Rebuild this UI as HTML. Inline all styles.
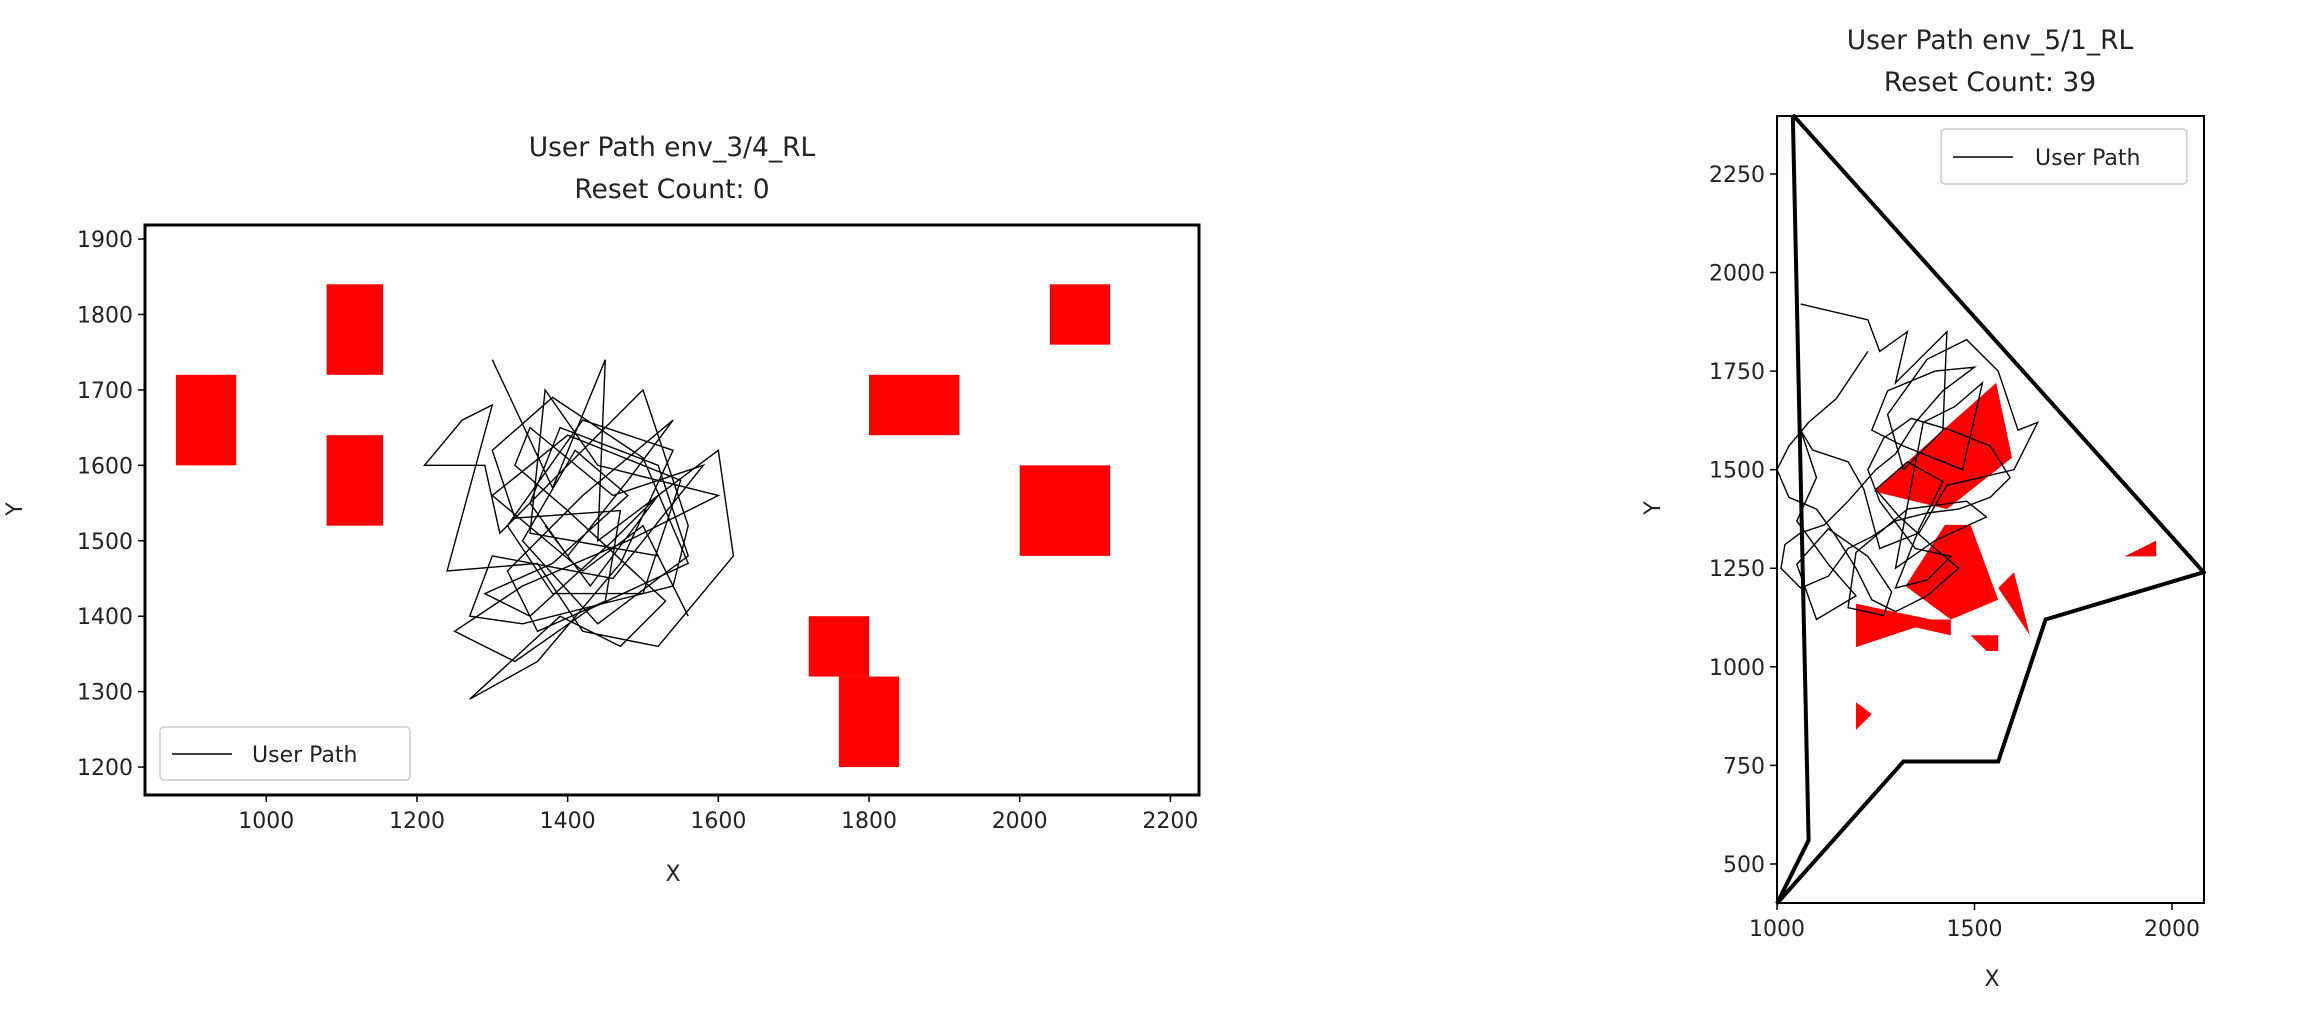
<!DOCTYPE html>
<html><head><meta charset="utf-8"><style>
html,body{margin:0;padding:0;background:#fff;}
svg{display:block;font-family:"DejaVu Sans","Liberation Sans",sans-serif;}
</style></head><body>
<svg id="fig" width="2320" height="1013" viewBox="0 0 2320 1013" xmlns="http://www.w3.org/2000/svg"></svg>
<script>
// ---- Left chart data ----
const leftXTicks = [1000,1200,1400,1600,1800,2000,2200];
const leftYTicks = [1200,1300,1400,1500,1600,1700,1800,1900];
const leftRects = [[880,960,1600,1720],[1080,1155,1720,1840],[1080,1155,1520,1640],[1720,1800,1320,1400],[1760,1840,1200,1320],[1800,1920,1640,1720],[2040,2120,1760,1840],[2000,2120,1480,1600]];
const leftPathX = [1300,1380,1450,1440,1600,1620,1520,1420,1360,1240,1300,1260,1210,1290,1310,1500,1560,1540,1340,1270,1300,1460,1580,1460,1350,1330,1400,1530,1470,1390,1270,1360,1470,1540,1420,1320,1380,1500,1550,1400,1300,1420,1500,1560,1520,1350,1370,1440,1600,1480,1340,1250,1330,1430,1560,1500,1380,1300,1330,1470,1450,1360,1320,1420,1540,1480,1400,1350,1390,1520,1560,1440,1340,1410,1480,1380,1290,1350,1460,1520,1430,1370];
const leftPathY = [1740,1570,1740,1500,1620,1480,1360,1380,1470,1460,1680,1660,1600,1600,1510,1700,1520,1440,1390,1400,1480,1450,1600,1560,1650,1600,1540,1420,1360,1400,1290,1340,1470,1620,1660,1520,1430,1430,1580,1640,1560,1460,1520,1400,1480,1510,1700,1600,1560,1500,1440,1380,1340,1410,1470,1610,1690,1620,1530,1540,1420,1380,1460,1560,1660,1580,1480,1550,1650,1600,1480,1390,1500,1620,1560,1470,1430,1400,1500,1560,1440,1520];
// ---- Right chart data ----
const rightXTicks = [1000,1500,2000];
const rightYTicks = [500,750,1000,1250,1500,1750,2000,2250];
const boundaryX = [1040,1080,1000,1320,1560,1680,2080,1040];
const boundaryY = [2400,560,400,760,760,1120,1240,2400];
const rightPolys = [
 [[1245,1445],[1555,1720],[1595,1530],[1430,1400]],
 [[1325,1205],[1425,1360],[1490,1360],[1560,1170],[1440,1120]],
 [[1200,1160],[1390,1120],[1440,1120],[1440,1080],[1350,1100],[1200,1050]],
 [[1560,1200],[1600,1240],[1640,1080]],
 [[1490,1080],[1560,1080],[1560,1040],[1530,1040]],
 [[1880,1280],[1960,1320],[1960,1280]],
 [[1200,910],[1240,880],[1200,840]]
];
const rightPathX = [1060,1230,1260,1330,1300,1430,1420,1320,1280,1380,1480,1560,1610,1660,1600,1430,1360,1260,1220,1180,1090,1060,1100,1050,1130,1200,1100,1050,1130,1230,1290,1270,1180,1200,1330,1480,1530,1400,1300,1370,1450,1520,1470,1320,1240,1280,1400,1500,1420,1350,1300,1250,1180,1120,1060,1020,1010,1060,1130,1180,1240,1300,1380,1460,1540,1590,1540,1440,1340,1270,1230,1260,1350,1440,1380,1300,1360,1420,1330,1250,1310,1400,1460,1380,1300,1240,1200,1150,1100,1030,1000,1030,1080,1150,1230];
const rightPathY = [1920,1880,1800,1850,1720,1850,1600,1500,1640,1780,1830,1750,1600,1620,1500,1460,1340,1300,1450,1520,1550,1600,1480,1370,1260,1180,1120,1260,1350,1280,1190,1130,1150,1290,1400,1420,1380,1320,1250,1620,1660,1720,1500,1560,1600,1700,1750,1760,1700,1620,1540,1500,1420,1360,1340,1310,1250,1200,1230,1300,1330,1370,1390,1400,1430,1480,1560,1600,1630,1580,1500,1420,1300,1280,1220,1200,1350,1470,1520,1450,1380,1300,1250,1180,1140,1170,1250,1330,1400,1430,1500,1560,1620,1680,1800];

const NS = "http://www.w3.org/2000/svg";
const fig = document.getElementById('fig');
function el(tag, attrs, parent){const e=document.createElementNS(NS,tag);for(const k in attrs)e.setAttribute(k,attrs[k]);(parent||fig).appendChild(e);return e;}
function txt(s, attrs, parent){const e=el('text',attrs,parent);e.textContent=s;return e;}
function makeAxis(box, xd, yd){
  const sx=v=>box.l+(v-xd[0])/(xd[1]-xd[0])*(box.r-box.l);
  const sy=v=>box.b-(v-yd[0])/(yd[1]-yd[0])*(box.b-box.t);
  return {sx,sy};
}

// ---------- LEFT ----------
const LB={l:145,r:1199,t:225,b:795};
const L=makeAxis(LB,[839,2238],[1163,1918.6]);
const gl=el('g',{});


const clipL=el('clipPath',{id:'clipL'},gl);el('rect',{x:LB.l,y:LB.t,width:LB.r-LB.l,height:LB.b-LB.t},clipL);
leftRects.forEach((r,i)=>{
  const e=el('rect',{x:L.sx(r[0]),y:L.sy(r[3]),width:L.sx(r[1])-L.sx(r[0]),height:L.sy(r[2])-L.sy(r[3]),fill:'#ff0000'},gl);
  
  
});
{
  let d=leftPathX.map((x,i)=>(i?'L':'M')+L.sx(x).toFixed(1)+' '+L.sy(leftPathY[i]).toFixed(1)).join(' ');
  const p=el('path',{d,fill:'none',stroke:'#000','stroke-width':1.4,'clip-path':'url(#clipL)'},gl);
  
  
}
el('rect',{x:LB.l,y:LB.t,width:LB.r-LB.l,height:LB.b-LB.t,fill:'none',stroke:'#000','stroke-width':3},gl);
leftXTicks.forEach(v=>{const x=L.sx(v);el('line',{x1:x,x2:x,y1:LB.b,y2:LB.b+7,stroke:'#000','stroke-width':1.5},gl);
  const t=txt(String(v),{x:x,y:LB.b+33,'font-size':22,'text-anchor':'middle',fill:'#222'},gl);
  });
leftYTicks.forEach(v=>{const y=L.sy(v);el('line',{x1:LB.l-7,x2:LB.l,y1:y,y2:y,stroke:'#000','stroke-width':1.5},gl);
  const t=txt(String(v),{x:LB.l-12,y:y+8,'font-size':22,'text-anchor':'end',fill:'#222'},gl);
  });
{const t=txt('User Path env_3/4_RL',{x:672,y:156,'font-size':26.5,'text-anchor':'middle',fill:'#222'},gl);
 const t2=txt('Reset Count: 0',{x:672,y:198,'font-size':26.5,'text-anchor':'middle',fill:'#222'},gl);
 const xl=txt('X',{x:673,y:881,'font-size':22,'text-anchor':'middle',fill:'#222'},gl);
 const yl=txt('Y',{x:0,y:0,'font-size':22,'text-anchor':'middle',fill:'#222',transform:'translate(22,509) rotate(-90)'},gl);
 const lg=el('g',{},gl);
 el('rect',{x:160,y:727,width:250,height:53,rx:4,fill:'#fff',stroke:'#ccc','stroke-width':1.5},lg);
 el('line',{x1:172,x2:232,y1:754,y2:754,stroke:'#000','stroke-width':1.5},lg);
 const lt=txt('User Path',{x:252,y:762,'font-size':22,fill:'#222'},lg);
}

// ---------- RIGHT ----------
const RB={l:1777,r:2204,t:116,b:903};
const R=makeAxis(RB,[1000,2081],[401,2397]);
const gr=el('g',{});


const clipR=el('clipPath',{id:'clipR'},gr);el('rect',{x:RB.l-2,y:RB.t-2,width:RB.r-RB.l+4,height:RB.b-RB.t+4},clipR);
rightPolys.forEach(poly=>{
  const e=el('polygon',{points:poly.map(p=>R.sx(p[0]).toFixed(1)+','+R.sy(p[1]).toFixed(1)).join(' '),fill:'#ff0000'},gr);
  
  
});
{
  let d=rightPathX.map((x,i)=>(i?'L':'M')+R.sx(x).toFixed(1)+' '+R.sy(rightPathY[i]).toFixed(1)).join(' ');
  const p=el('path',{d,fill:'none',stroke:'#000','stroke-width':1.4,'clip-path':'url(#clipR)'},gr);
  
  
  let d2=boundaryX.map((x,i)=>(i?'L':'M')+R.sx(x).toFixed(1)+' '+R.sy(boundaryY[i]).toFixed(1)).join(' ');
  const b=el('path',{d:d2,fill:'none',stroke:'#000','stroke-width':4,'stroke-linejoin':'miter','clip-path':'url(#clipR)'},gr);
  
  
}
el('rect',{x:RB.l,y:RB.t,width:RB.r-RB.l,height:RB.b-RB.t,fill:'none',stroke:'#000','stroke-width':2},gr);
rightXTicks.forEach(v=>{const x=R.sx(v);el('line',{x1:x,x2:x,y1:RB.b,y2:RB.b+7,stroke:'#000','stroke-width':1.5},gr);
  const t=txt(String(v),{x:x,y:RB.b+33,'font-size':22,'text-anchor':'middle',fill:'#222'},gr);
  });
rightYTicks.forEach(v=>{const y=R.sy(v);el('line',{x1:RB.l-7,x2:RB.l,y1:y,y2:y,stroke:'#000','stroke-width':1.5},gr);
  const t=txt(String(v),{x:RB.l-12,y:y+8,'font-size':22,'text-anchor':'end',fill:'#222'},gr);
  });
{const t=txt('User Path env_5/1_RL',{x:1990,y:49,'font-size':26.5,'text-anchor':'middle',fill:'#222'},gr);
 const t2=txt('Reset Count: 39',{x:1990,y:91,'font-size':26.5,'text-anchor':'middle',fill:'#222'},gr);
 const xl=txt('X',{x:1992,y:986,'font-size':22,'text-anchor':'middle',fill:'#222'},gr);
 const yl=txt('Y',{x:0,y:0,'font-size':22,'text-anchor':'middle',fill:'#222',transform:'translate(1660,508) rotate(-90)'},gr);
 const lg=el('g',{},gr);
 el('rect',{x:1941,y:129,width:246,height:55,rx:4,fill:'#fff',stroke:'#ccc','stroke-width':1.5,'fill-opacity':0.8},lg);
 el('line',{x1:1953,x2:2013,y1:157,y2:157,stroke:'#000','stroke-width':1.5},lg);
 const lt=txt('User Path',{x:2035,y:165,'font-size':22,fill:'#222'},lg);
}
</script>
</body></html>
